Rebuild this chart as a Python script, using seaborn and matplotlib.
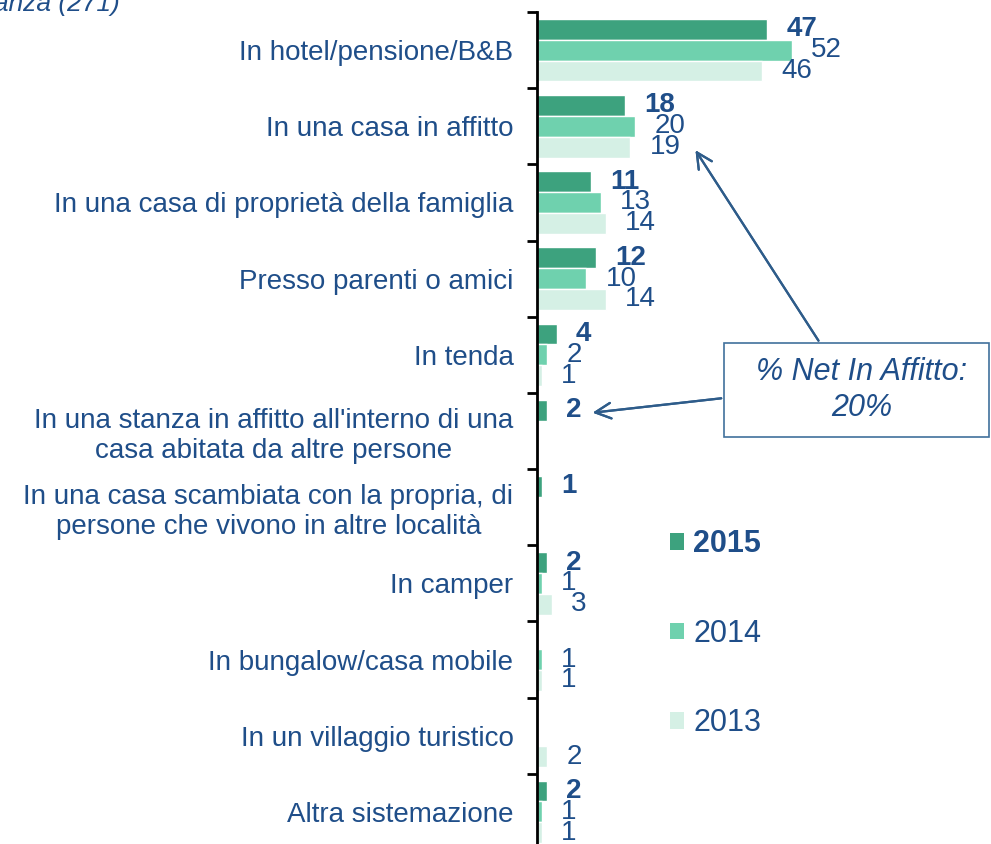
import numpy as np
import pandas as pd
import matplotlib
matplotlib.use("Agg")
import matplotlib.pyplot as plt
import seaborn as sns
from matplotlib.patches import Patch, Rectangle

# dati
categorie = [
    "In hotel/pensione/B&B",
    "In una casa in affitto",
    "In una casa di proprietà della famiglia",
    "Presso parenti o amici",
    "In tenda",
    "In una stanza in affitto all'interno di una\ncasa abitata da altre persone",
    "In una casa scambiata con la propria, di\npersone che vivono in altre località",
    "In camper",
    "In bungalow/casa mobile",
    "In un villaggio turistico",
    "Altra sistemazione",
]
anni = ["2015", "2014", "2013"]
v2015 = [47, 18, 11, 12, 4, 2, 1, 2, np.nan, np.nan, 2]
v2014 = [52, 20, 13, 10, 2, np.nan, np.nan, 1, 1, np.nan, 1]
v2013 = [46, 19, 14, 14, 1, np.nan, np.nan, 3, 1, 2, 1]
colori = ["#3DA27E", "#6FD1AE", "#D5F0E5"]
blu = "#1F4E89"

df = pd.DataFrame({
    "categoria": categorie * 3,
    "anno": [a for a in anni for _ in categorie],
    "valore": v2015 + v2014 + v2013,
})

sns.set_style("white")
plt.rcParams["font.family"] = ["Liberation Sans", "DejaVu Sans"]

fig = plt.figure(figsize=(9.91, 8.44), dpi=100)
ax = fig.add_axes([537 / 991, -6 / 844, 454 / 991, 838 / 844])

sns.barplot(data=df, y="categoria", x="valore", hue="anno", hue_order=anni,
            order=categorie, palette=colori, saturation=1, orient="h", width=0.82,
            edgecolor="white", linewidth=1, legend=False, ax=ax)

ax.set_xlim(0, 454 / 4.9)
ax.set_ylim(len(categorie) - 0.5, -0.5)

# etichette valori
for i, c in enumerate(ax.containers):
    labels = ["" if np.isnan(v) else f"{v:.0f}" for v in c.datavalues]
    ax.bar_label(c, labels=labels, padding=14, fontsize=20, color=blu,
                 fontweight="bold" if i == 0 else "normal")

# assi
for s in ["top", "right", "bottom"]:
    ax.spines[s].set_visible(False)
ax.spines["left"].set_linewidth(2)
ax.spines["left"].set_color("black")
ax.set_xticks([])
ax.set_xlabel("")
ax.set_ylabel("")
ax.set_yticks(np.arange(len(categorie)))
ax.set_yticklabels(categorie, fontsize=20, color=blu, multialignment="center")
ax.tick_params(axis="y", which="major", length=0, pad=17)
ax.set_yticks(np.arange(len(categorie)) - 0.5, minor=True)
ax.tick_params(axis="y", which="minor", length=7, width=2, color="black", left=True)

# legenda
handles = [Patch(facecolor=c, edgecolor="none") for c in colori]
leg = ax.legend(handles, anni, loc="upper left", frameon=False,
                bbox_to_anchor=(655 / 991, 1 - 514 / 844), bbox_transform=fig.transFigure,
                fontsize=22, labelspacing=1.95, handlelength=0.45, handleheight=0.45,
                handletextpad=0.3, borderpad=0)
for t in leg.get_texts():
    t.set_color(blu)
leg.get_texts()[0].set_fontweight("bold")

# box annotazione
fig.patches.append(Rectangle((724 / 991, 1 - 437 / 844), 265 / 991, 94 / 844,
                             transform=fig.transFigure, facecolor="white",
                             edgecolor="#41719C", linewidth=1.2, zorder=5))
fig.text(862 / 991, 1 - 390 / 844, "% Net In Affitto:\n20%", ha="center", va="center",
         fontsize=22, style="italic", color=blu, linespacing=1.25, zorder=6)
arrow = dict(arrowstyle="->", color="#2E5C8A", lw=1.6, mutation_scale=28)
fig.add_artist(plt.annotate("", xy=(694 / 991, 1 - 148 / 844), xytext=(820 / 991, 1 - 343 / 844),
                            xycoords=fig.transFigure, textcoords=fig.transFigure, arrowprops=arrow))
fig.add_artist(plt.annotate("", xy=(590 / 991, 1 - 413 / 844), xytext=(724 / 991, 1 - 398 / 844),
                            xycoords=fig.transFigure, textcoords=fig.transFigure, arrowprops=arrow))

# titolo tagliato
fig.text(120 / 991, 1 - 4 / 844, "Base: chi è andato in vacanza (271)", ha="right", va="center",
         fontsize=19, style="italic", color=blu)

fig.savefig("out.png", dpi=100)
